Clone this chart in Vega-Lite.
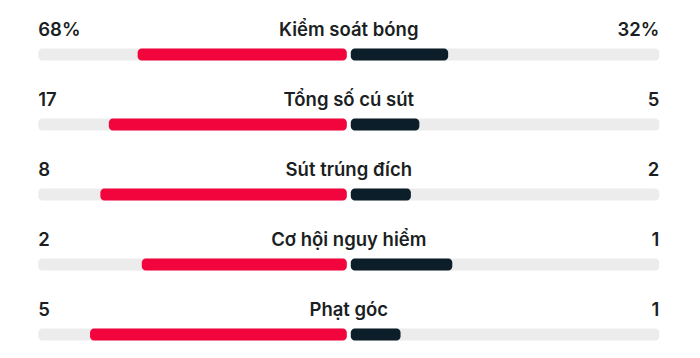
{
  "$schema": "https://vega.github.io/schema/vega-lite/v6.json",
  "width": 700,
  "height": 358,
  "autosize": {"type": "fit", "contains": "padding"},
  "padding": 0,
  "background": "#ffffff",
  "config": {"view": {"stroke": null}},
  "data": {
    "values": [
      {"stat": "Kiểm soát bóng", "home": 68, "away": 32, "homeLabel": "68%", "awayLabel": "32%"},
      {"stat": "Tổng số cú sút", "home": 17, "away": 5, "homeLabel": "17", "awayLabel": "5"},
      {"stat": "Sút trúng đích", "home": 8, "away": 2, "homeLabel": "8", "awayLabel": "2"},
      {"stat": "Cơ hội nguy hiểm", "home": 2, "away": 1, "homeLabel": "2", "awayLabel": "1"},
      {"stat": "Phạt góc", "home": 5, "away": 1, "homeLabel": "5", "awayLabel": "1"}
    ]
  },
  "transform": [
    {"calculate": "-datum.home / (datum.home + datum.away)", "as": "homeShare"},
    {"calculate": "datum.away / (datum.home + datum.away)", "as": "awayShare"},
    {"calculate": "-1", "as": "leftEnd"},
    {"calculate": "0", "as": "mid"},
    {"calculate": "1", "as": "rightEnd"}
  ],
  "encoding": {
    "y": {"field": "stat", "type": "nominal", "sort": null, "scale": {"type": "point", "padding": 0.557}, "axis": null}
  },
  "layer": [
    {
      "mark": {"type": "bar", "height": 12, "yOffset": 15.5, "color": "#ececec", "cornerRadius": 4, "x2Offset": -2},
      "encoding": {
        "x": {"field": "leftEnd", "type": "quantitative", "scale": {"domain": [-1.1233, 1.1311], "nice": false, "zero": false}, "axis": null},
        "x2": {"field": "mid"}
      }
    },
    {
      "mark": {"type": "bar", "height": 12, "yOffset": 15.5, "color": "#ececec", "cornerRadius": 4, "xOffset": 2},
      "encoding": {
        "x": {"field": "mid", "type": "quantitative"},
        "x2": {"field": "rightEnd"}
      }
    },
    {
      "mark": {"type": "bar", "height": 12, "yOffset": 15.5, "color": "#f2043c", "cornerRadius": 4, "x2Offset": -2},
      "encoding": {
        "x": {"field": "homeShare", "type": "quantitative"},
        "x2": {"field": "mid"}
      }
    },
    {
      "mark": {"type": "bar", "height": 12, "yOffset": 15.5, "color": "#0b1e29", "cornerRadius": 4, "xOffset": 2},
      "encoding": {
        "x": {"field": "mid", "type": "quantitative"},
        "x2": {"field": "awayShare"}
      }
    },
    {
      "mark": {"type": "text", "align": "left", "baseline": "middle", "dy": -9, "font": "Inter", "fontSize": 18.5, "fontWeight": 600, "color": "#1b1f23"},
      "encoding": {
        "x": {"field": "leftEnd", "type": "quantitative"},
        "text": {"field": "homeLabel"}
      }
    },
    {
      "mark": {"type": "text", "align": "right", "baseline": "middle", "dy": -9, "font": "Inter", "fontSize": 18.5, "fontWeight": 600, "color": "#1b1f23"},
      "encoding": {
        "x": {"field": "rightEnd", "type": "quantitative"},
        "text": {"field": "awayLabel"}
      }
    },
    {
      "mark": {"type": "text", "align": "center", "baseline": "middle", "dy": -9, "font": "Inter", "fontSize": 18.5, "fontWeight": 600, "color": "#1b1f23"},
      "encoding": {
        "x": {"field": "mid", "type": "quantitative"},
        "text": {"field": "stat"}
      }
    }
  ]
}
